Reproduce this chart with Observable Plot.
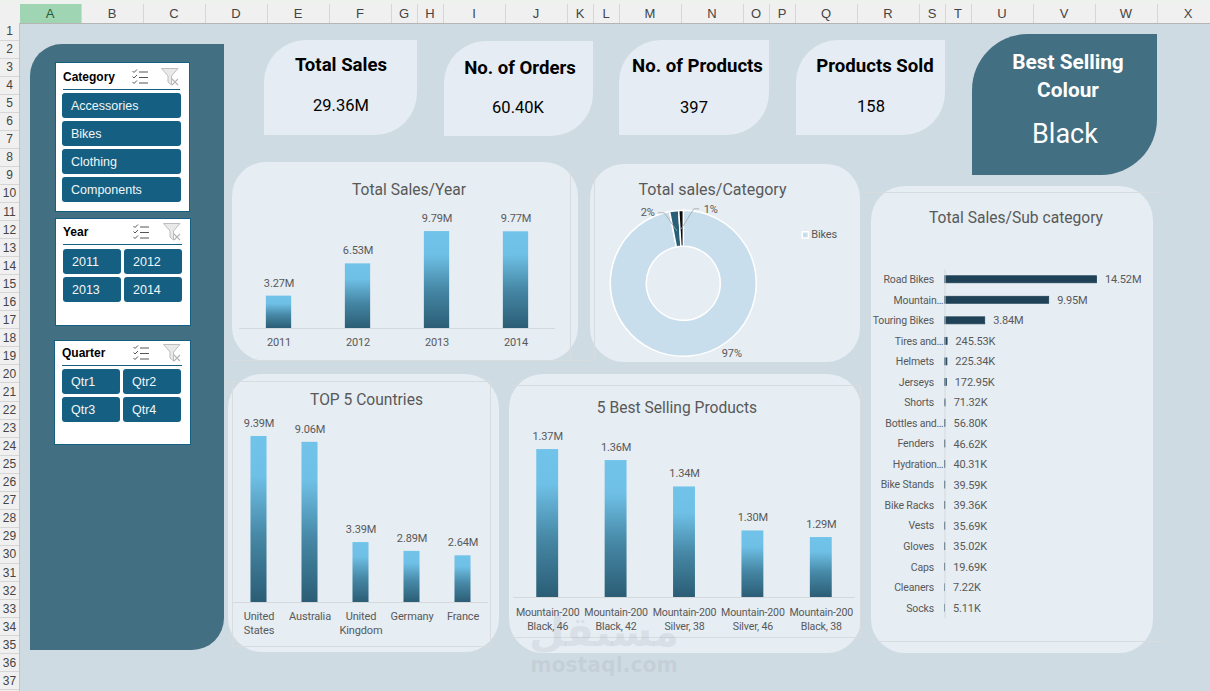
<!DOCTYPE html>
<html>
<head>
<meta charset="utf-8">
<script src="https://cdn.jsdelivr.net/npm/d3@7"></script>
<script src="https://cdn.jsdelivr.net/npm/@observablehq/plot@0.6"></script>
<style>
html,body{margin:0;padding:0;background:#cfdbe3;}
#page{position:relative;width:1210px;height:691px;overflow:hidden;background:#cfdbe3;font-family:Roboto,sans-serif;}
#page>*{position:absolute;}
.c{white-space:nowrap;transform:translate(-50%,-50%);text-align:center;}
.hdr{background:#f0f0f0;color:#444;font:13px "Liberation Sans",sans-serif;display:flex;align-items:center;justify-content:center;box-sizing:border-box;}
.kpi{background:#e5ecf3;}
.panel{background:#e6edf3;border-radius:34px;}
.rule{background:#d8dcdf;}
.slicer{background:#fff;border:1px solid #156082;box-sizing:border-box;}
.btn{background:#156082;color:#f2f6f8;border-radius:3px;font:12.5px "Liberation Sans",sans-serif;display:flex;align-items:center;box-sizing:border-box;padding-left:9px;}
.sh{font:bold 12px "Liberation Sans",sans-serif;color:#000;}
</style>
</head>
<body>
<div id="page"></div>
<script>
// ---------- data ----------
const years = ["2011", "2012", "2013", "2014"];
const yearSales = [3.27, 6.53, 9.79, 9.77];
const countries = ["United States", "Australia", "United Kingdom", "Germany", "France"];
const countrySales = [9.39, 9.06, 3.39, 2.89, 2.64];
const products = ["Mountain-200 Black, 46", "Mountain-200 Black, 42", "Mountain-200 Silver, 38", "Mountain-200 Silver, 46", "Mountain-200 Black, 38"];
const productSales = [1.37, 1.36, 1.336, 1.296, 1.29];
const categories = ["Bikes", "Clothing", "Accessories"];
const categoryShare = [97, 2, 1];
const subCategories = ["Road Bikes", "Mountain…", "Touring Bikes", "Tires and…", "Helmets", "Jerseys", "Shorts", "Bottles and…", "Fenders", "Hydration…", "Bike Stands", "Bike Racks", "Vests", "Gloves", "Caps", "Cleaners", "Socks"];
const subSales = [14.52, 9.95, 3.84, 0.24553, 0.22534, 0.17295, 0.07132, 0.0568, 0.04662, 0.04031, 0.03959, 0.03936, 0.03569, 0.03502, 0.01969, 0.00722, 0.00511];
const kpiTitles = ["Total Sales", "No. of Orders", "No. of Products", "Products Sold"];
const kpiValues = ["29.36M", "60.40K", "397", "158"];
const columnLetters = "ABCDEFGHIJKLMNOPQRSTUVWX".split("");
const columnWidths = [62, 62, 62, 62, 62, 62, 26, 26, 62, 62, 26, 26, 62, 62, 26, 26, 62, 62, 26, 26, 62, 62, 62, 62];
const categoryItems = ["Accessories", "Bikes", "Clothing", "Components"];
const quarterItems = ["Qtr1", "Qtr2", "Qtr3", "Qtr4"];

// ---------- helpers ----------
const page = document.getElementById("page");
function box(cls, l, t, w, h, css = "", html = "") {
  const d = document.createElement("div");
  d.className = cls;
  d.style.cssText = `left:${l}px;top:${t}px;width:${w}px;height:${h}px;${css}`;
  d.innerHTML = html;
  page.appendChild(d);
  return d;
}
function label(text, cx, cy, css) {
  const d = document.createElement("div");
  d.className = "c";
  d.style.cssText = `left:${cx}px;top:${cy}px;${css}`;
  d.textContent = text;
  page.appendChild(d);
}
function place(svg, l, t) {
  svg.style.position = "absolute";
  svg.style.left = l + "px";
  svg.style.top = t + "px";
  page.appendChild(svg);
}
const chartStyle = {font: "11px Roboto, sans-serif", color: "#595959", background: "transparent", overflow: "visible", letterSpacing: "-0.15px"};
const gradientDefs = () => d3.create("svg:defs").html(`<linearGradient id="barGrad" x1="0" y1="0" x2="0" y2="1">
  <stop offset="0" stop-color="#71c3ea"/><stop offset="0.24" stop-color="#6fc0e6"/>
  <stop offset="0.6" stop-color="#4688a6"/><stop offset="1" stop-color="#2b5d75"/></linearGradient>`).node();

// ---------- spreadsheet frame ----------
box("", 0, 0, 1210, 4, "background:#eef2ee;");
box("", 0, 4, 1210, 18.5, "background:#f0f0f0;border-bottom:1px solid #b5b5b5;box-sizing:content-box;");
let cx = 19.5;
columnLetters.forEach((c, i) => {
  const w = columnWidths[i];
  box("hdr", cx, 4, w, 18.5, (i === 0 ? "background:#9fd5b2;color:#1f5c3a;" : "") + "border-right:1px solid #d6d6d6;", c);
  cx += w;
});
box("", 0, 22.5, 19.5, 669, "background:#f0f0f0;border-right:1px solid #c4c4c4;box-sizing:border-box;");
d3.range(1, 38).forEach(r => {
  box("hdr", 0, 22.5 + (r - 1) * 18.05, 19, 18.05, "border-bottom:1px solid #d6d6d6;font-size:12px;", String(r));
});

// ---------- left band and slicers ----------
box("", 30, 44, 194, 606, "background:#436f82;border-radius:32px 0 32px 0;");
const checkIcon = `<svg width="17" height="16" viewBox="0 0 17 16" fill="none" stroke="#555" stroke-width="1"><path d="M0.5 2l1.5 1.5L5 0.5M0.5 7.5l1.5 1.5L5 6M0.5 13l1.5 1.5L5 11.5"/><path d="M7 3h9M7 8.500h9M7 14h9"/></svg>`;
const funnelIcon = `<svg width="18" height="18" viewBox="0 0 18 18"><path d="M0.5 0.500H17L10.500 8V17L7 14V8Z" fill="#e9e9e9" stroke="#bdbdbd"/><path d="M11 11l6 6M17 11l-6 6" stroke="#b5b5b5" stroke-width="1.200"/></svg>`;
function slicer(name, l, t, w, h, lineX, lineW, lineY, iconX, funnelX, iconY, items, nameY) {
  box("slicer", l, t, w, h);
  box("sh", lineX, nameY, 80, 14, "", name);
  box("", iconX, iconY, 17, 16, "", checkIcon);
  box("", funnelX, iconY - 1, 18, 18, "", funnelIcon);
  box("", lineX, lineY, lineW, 1, "background:#156082;");
  items.forEach(it => box("btn", it[0], it[1], it[2], it[3], "", it[4]));
}
slicer("Category", 54.5, 62, 135, 150, 63, 117, 89, 132, 161, 69,
  categoryItems.map((c, i) => [62, 93 + i * 28, 119, 25, c]), 70);
slicer("Year", 54.5, 217.5, 136.5, 108, 63, 119, 244, 133, 163, 224,
  years.map((y, i) => [i % 2 ? 124 : 63, i < 2 ? 249 : 277, 58, 25, y]), 224.5);
slicer("Quarter", 53.5, 339.5, 137.5, 105, 62, 120, 365, 133, 163, 345,
  quarterItems.map((q, i) => [i % 2 ? 123 : 62, i < 2 ? 369 : 397, 58, 25, q]), 345.5);

// ---------- KPI cards ----------
const kpiBoxes = [[264, 39.500, 153, 95], [444, 40.500, 149, 95], [619, 40, 150, 95], [796, 40, 149, 95]];
const kpiTitlePos = [[341, 64.7], [520, 67.7], [697.500, 65.7], [875, 65.7]];
const kpiValuePos = [[341, 105], [518, 107], [694, 107], [871, 106]];
kpiTitles.forEach((t, i) => {
  const [l, tp, w, h] = kpiBoxes[i];
  box("kpi", l, tp, w, h, "border-radius:42px 0 42px 0;");
  label(t, kpiTitlePos[i][0], kpiTitlePos[i][1], "font:bold 18.6px Roboto,sans-serif;color:#000;");
  label(kpiValues[i], kpiValuePos[i][0], kpiValuePos[i][1], "font:16.5px Roboto,sans-serif;color:#000;");
});
box("", 972, 34, 185, 141, "background:#436f82;border-radius:56px 0 56px 0;");
label("Best Selling", 1068, 62, "font:bold 20.8px Roboto,sans-serif;color:#fff;");
label("Colour", 1068, 90, "font:bold 20.8px Roboto,sans-serif;color:#fff;");
label("Black", 1065, 134, "font:27px Roboto,sans-serif;color:#fff;");

// ---------- chart panels ----------
box("panel", 232, 162, 346, 199);
box("panel", 590, 164, 270, 198);
box("panel", 871, 186, 282, 467);
box("panel", 228, 374, 271, 278);
box("panel", 509, 374, 352, 279);
// faint chart-area borders
box("rule", 570, 170, 1, 190);
box("rule", 232, 360, 358, 1);
box("rule", 232, 381, 258, 1);
box("rule", 232, 646, 258, 1);
box("rule", 232, 381, 1, 265);
box("rule", 490, 381, 1, 265);
box("rule", 510, 385, 350, 1);
box("rule", 510, 637, 350, 1);
box("rule", 860, 385, 1, 252);
box("rule", 865, 192, 295, 1);
box("rule", 871, 641, 290, 1);
box("rule", 594, 170, 1, 190);

const titleFont = "font:15.6px Roboto,sans-serif;color:#595959;";
label("Total Sales/Year", 409, 189.5, titleFont);
label("Total sales/Category", 712.500, 188.5, "font:16px Roboto,sans-serif;color:#595959;");
label("Total Sales/Sub category", 1016, 217.5, titleFont);
label("TOP 5 Countries", 366.500, 399.5, titleFont);
label("5 Best Selling Products", 677, 407.5, titleFont);

// ---------- column charts ----------
function columnChart({names, values, left, top, width, baselineFromTop, below, barShare, yMin, yMax, fmt, tickFormat, tickPadding = 8, fontSize = "11px"}) {
  const data = names.map((n, i) => ({name: n, value: values[i]}));
  return place(Plot.plot({
    width, height: baselineFromTop + below, margin: 0, marginBottom: below,
    style: {...chartStyle},
    x: {domain: names, paddingInner: 1 - barShare, paddingOuter: (1 - barShare) / 2, round: false, label: null},
    y: {domain: [yMin, yMax], axis: null, label: null},
    marks: [
      gradientDefs,
      Plot.barY(data, {x: "name", y1: () => yMin, y2: "value", fill: "url(#barGrad)"}),
      Plot.ruleY([yMin], {stroke: "#d6d9dc"}),
      Plot.text(data, {x: "name", y: "value", text: d => fmt(d.value), dy: -13, fontSize: 11}),
      Plot.axisX({tickSize: 0, tickPadding, lineHeight: 1.27, label: null, tickFormat, fontSize})
    ]
  }), left, top);
}
const millions = v => v.toFixed(2) + "M";
columnChart({names: years, values: yearSales, left: 239, top: 205, width: 316, baselineFromTop: 123, below: 27,
  barShare: 0.32, yMin: 0, yMax: 123 / 9.9, fmt: millions});
columnChart({names: countries, values: countrySales, left: 232.5, top: 412, width: 255, baselineFromTop: 190, below: 40,
  barShare: 0.314, yMin: 0, yMax: 190 / 17.68, fmt: millions, tickFormat: d => d.replace(" ", "\n")});
columnChart({names: products, values: productSales, left: 512.5, top: 425, width: 342, baselineFromTop: 172, below: 36,
  barShare: 0.32, yMin: 1.2355, yMax: 1.2355 + 172 / 1100, fmt: millions, tickFormat: d => d.replace(" ", "\n"), tickPadding: 9, fontSize: "10.6px"});

// ---------- donut ----------
const total = d3.sum(categoryShare);
let running = 0;
const slices = categories.map((name, i) => {
  const a0 = running / total * 2 * Math.PI;
  running += categoryShare[i];
  return {name, share: categoryShare[i], a0, a1: running / total * 2 * Math.PI};
});
const outerR = 73, innerR = 37;
const pctLabels = [
  {text: "97%", pos: [48, 70]},
  {text: "2%", pos: [-36, -71]},
  {text: "1%", pos: [27, -74]}
];
const leader2 = [[-25.500, -71], [-19.500, -71], [-7, -53]];
const leader1 = [[15, -75], [10, -75], [-2.500, -55]];
place(Plot.plot({
  width: 270, height: 198, margin: 0,
  style: chartStyle,
  x: {domain: [-93.3, 176.7], axis: null},
  y: {domain: [-118.3, 79.7], range: [0, 198], axis: null},
  color: {domain: categories, range: ["#c9deed", "#2a5f78", "#0b0b0b"]},
  marks: [
    Plot.dot(slices, {
      x: () => 0, y: () => 0, fill: "name",
      render(index, scales, values) {
        const g = d3.create("svg:g");
        const k = scales.x(1) - scales.x(0);
        const arc = d3.arc().innerRadius(innerR * k).outerRadius(outerR * k);
        for (const i of index) {
          g.append("path")
            .attr("d", arc({startAngle: slices[i].a0, endAngle: slices[i].a1}))
            .attr("transform", `translate(${scales.x(0)},${scales.y(0)})`)
            .attr("fill", values.fill[i])
            .attr("stroke", "#fff").attr("stroke-width", 1.5);
        }
        return g.node();
      }
    }),
    Plot.line(leader2, {x: d => d[0], y: d => d[1], stroke: "#a6a6a6", strokeWidth: 0.8}),
    Plot.line(leader1, {x: d => d[0], y: d => d[1], stroke: "#a6a6a6", strokeWidth: 0.8}),
    Plot.text(pctLabels, {x: d => d.pos[0], y: d => d.pos[1], text: "text"}),
    Plot.dot(["Bikes"], {x: () => 121.500, y: () => -49, symbol: "square", r: 3.5, fill: d => d, stroke: "#fff", strokeWidth: 1.5}),
    Plot.text(["Bikes"], {x: () => 127.5, y: () => -49, text: d => d, textAnchor: "start"})
  ]
}), 590, 165);

// ---------- sub category bars ----------
const subData = subCategories.map((name, i) => ({name, value: subSales[i]}));
const truncated = subCategories.filter(n => n.endsWith("…"));
const whole = subCategories.filter(n => !n.endsWith("…"));
const compact = v => v >= 1 ? v.toFixed(2) + "M" : (v * 1000).toFixed(2) + "K";
place(Plot.plot({
  width: 278, height: 353, marginLeft: 72.5, marginTop: 4, marginBottom: 0, marginRight: 0,
  style: {...chartStyle, fontSize: "10.5px"},
  x: {domain: [0, 205.5 / 10.47], axis: null},
  y: {domain: subCategories, paddingInner: 0.66, paddingOuter: 0.33, round: false, label: null, axis: null},
  marks: [
    Plot.barX(subData, {y: "name", x: "value", fill: "#1f4257", stroke: "#1f4257", strokeWidth: 0.8}),
    Plot.ruleX([0], {stroke: "#d6d9dc"}),
    Plot.text(subData, {y: "name", x: "value", text: d => compact(d.value), textAnchor: "start", dx: 8, fontSize: 11}),
    Plot.axisY({ticks: whole, tickSize: 0, tickPadding: 11, label: null}),
    Plot.axisY({ticks: truncated, tickSize: 0, tickPadding: 1.5, label: null})
  ]
}), 872, 265);

// ---------- watermark ----------
label("مستقل", 604, 632, "font:bold 41px 'DejaVu Sans',sans-serif;color:rgba(120,130,140,0.13);");
label("mostaql.com", 604, 665, "font:bold 20.4px 'DejaVu Sans',sans-serif;color:rgba(120,130,140,0.13);");
</script>
</body>
</html>
